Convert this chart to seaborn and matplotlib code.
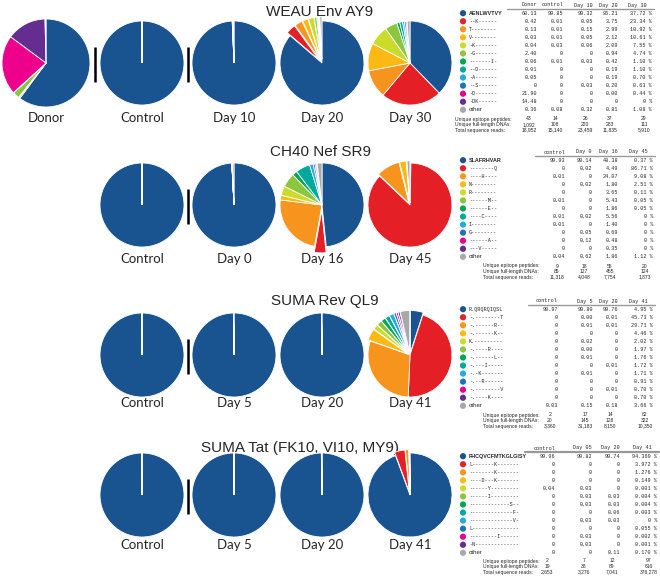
import matplotlib
matplotlib.use("Agg")
import matplotlib.pyplot as plt
import seaborn as sns

sns.set_theme(style="white")
plt.rcParams['font.family'] = ['Liberation Sans', 'DejaVu Sans']

W, H = 660, 579

# slice colours, in the order of the table rows
colors = sns.color_palette(['#1a5490', '#e41f26', '#f7941e', '#fcb813', '#cbdb2a', '#8cc63f',
                            '#00a651', '#00a99d', '#27aae1', '#1c75bc', '#ec008c', '#662d91',
                            '#a7a9ac'])

# ---- WEAU Env AY9 ----
weau_title = "WEAU Env AY9"
weau_labels = ["Donor", "Control", "Day 10", "Day 20", "Day 30"]
weau_headers = ["Donor", "control", "Day 10", "Day 20", "Day 30"]
weau_variants = ["AENLWVTVY", "--K------", "T--------", "V--------", "-K-------", "-G-------",
                 "-------I-", "--D------", "-A-------", "--S------", "-D-------", "-DK------", "other"]
weau_donor = [60.13, 0.42, 0.13, 0.03, 0.04, 2.40, 0.06, 0.01, 0.05, 0, 21.90, 14.48, 0.36]
weau_control = [99.85, 0.01, 0.01, 0.01, 0.03, 0, 0.01, 0, 0, 0, 0, 0, 0.08]
weau_day10 = [99.32, 0.05, 0.15, 0.05, 0.06, 0, 0.03, 0, 0, 0.03, 0, 0, 0.32]
weau_day20 = [86.21, 3.75, 2.99, 2.12, 2.09, 0.94, 0.42, 0.19, 0.19, 0.20, 0.004, 0, 0.81]
weau_day30 = [37.72, 23.34, 10.92, 10.61, 7.55, 4.74, 1.10, 1.10, 0.70, 0.63, 0.44, 0, 1.08]
weau_peptides = [43, 14, 26, 37, 29]
weau_dnas = [1092, 108, 220, 283, 111]
weau_reads = [18952, 15140, 23459, 11835, 5910]

# ---- CH40 Nef SR9 ----
ch40_title = "CH40 Nef SR9"
ch40_labels = ["Control", "Day 0", "Day 16", "Day 45"]
ch40_headers = ["control", "Day 0", "Day 16", "Day 45"]
ch40_variants = ["SLAFRHVAR", "--------Q", "----H----", "N--------", "R--------", "------M--",
                 "------E--", "----C----", "I--------", "G--------", "------A--", "---V-----", "other"]
ch40_control = [99.93, 0, 0.01, 0, 0, 0.01, 0, 0.01, 0.01, 0, 0, 0, 0.04]
ch40_day0 = [99.14, 0.02, 0, 0.02, 0, 0, 0, 0.02, 0, 0.05, 0.12, 0, 0.62]
ch40_day16 = [48.38, 4.49, 24.07, 1.80, 3.65, 5.43, 1.86, 5.56, 1.40, 0.69, 0.48, 0.35, 1.86]
ch40_day45 = [0.37, 86.71, 9.08, 2.51, 0.11, 0.05, 0.05, 0, 0, 0, 0, 0, 1.12]
ch40_peptides = [9, 18, 55, 20]
ch40_dnas = [85, 127, 455, 124]
ch40_reads = [11318, 4048, 7754, 1873]

# ---- SUMA Rev QL9 ----
rev_title = "SUMA Rev QL9"
rev_labels = ["Control", "Day 5", "Day 20", "Day 41"]
rev_headers = ["control", "Day 5", "Day 20", "Day 41"]
rev_variants = ["R.QRQRQIQSL", "-.--------T", "-.------R--", "-.------K--", "K.---------", "-.----R----",
                "-.------L--", "-.---I-----", "-.-K-------", "-.--R------", "-.--------V", "-.----K----",
                "other"]
rev_control = [99.97, 0, 0, 0, 0, 0, 0, 0, 0, 0, 0, 0, 0.03]
rev_day5 = [99.80, 0.004, 0.01, 0, 0.02, 0.004, 0.01, 0, 0.01, 0, 0, 0, 0.15]
rev_day20 = [99.76, 0.01, 0.01, 0, 0, 0, 0, 0.01, 0, 0, 0.01, 0, 0.18]
rev_day41 = [4.95, 45.73, 29.71, 4.46, 2.02, 1.97, 1.76, 1.72, 1.71, 0.91, 0.70, 0.70, 3.66]
rev_peptides = [2, 17, 14, 62]
rev_dnas = [20, 145, 128, 322]
rev_reads = [3360, 31183, 8150, 10350]

# ---- SUMA Tat (FK10, VI10, MY9) ----
tat_title = "SUMA Tat (FK10, VI10, MY9)"
tat_labels = ["Control", "Day 5", "Day 20", "Day 41"]
tat_headers = ["control", "Day 05", "Day 20", "Day 41"]
tat_variants = ["FHCQVCFMTKGLGISY", "L-------K-------", "--------K-------", "----D---K-------",
                "------Y---------", "------I---------", "-------------S--", "--------------F-",
                "--------------V-", "L---------------", "---------I------", "-N--------------", "other"]
tat_control = [99.96, 0, 0, 0, 0.04, 0, 0, 0, 0, 0, 0, 0, 0]
tat_day5 = [99.82, 0, 0, 0, 0.03, 0.03, 0.03, 0, 0.03, 0, 0.03, 0.03, 0]
tat_day20 = [99.74, 0, 0, 0, 0, 0.03, 0.03, 0.06, 0.03, 0, 0, 0, 0.11]
tat_day41 = [94.369, 3.972, 1.276, 0.149, 0.001, 0.004, 0.004, 0.003, 0, 0.055, 0.002, 0.001, 0.17]
tat_peptides = [2, 7, 12, 97]
tat_dnas = [19, 38, 89, 616]
tat_reads = [2653, 3276, 7041, 376278]

fig = plt.figure(figsize=(W / 100, H / 100), dpi=100)
bg = fig.add_axes([0, 0, 1, 1], zorder=0)
bg.set_xlim(0, W)
bg.set_ylim(H, 0)
bg.axis('off')

mono = ['Liberation Mono', 'DejaVu Sans Mono']
MONO_FS = 3.7
LIM = 1.18


def draw_pie(values, cx, cy, r, explode_idx=(), explode_amt=0.0):
    keep = [i for i, v in enumerate(values) if v > 0]
    vals = [values[i] for i in keep]
    cols = [colors[i] for i in keep]
    expl = [explode_amt if i in explode_idx else 0 for i in keep]
    side = 2 * r * LIM
    ax = fig.add_axes([(cx - r * LIM) / W, 1 - (cy + r * LIM) / H, side / W, side / H], zorder=2)
    ax.pie(vals, colors=cols, startangle=90, counterclock=False, explode=expl,
           wedgeprops=dict(edgecolor='white', linewidth=0.6))
    ax.set_xlim(-LIM, LIM)
    ax.set_ylim(-LIM, LIM)
    ax.set_aspect('equal')
    ax.axis('off')


def fmt(v, last, dec):
    s = "0" if v == 0 else f"{v:.{dec}f}"
    return s + " %" if last else s


def draw_table(variants, headers, columns, footer, head_y, col_right, name_sans,
               foot_x, foot_y, last_dec=2, line_w=1.0):
    row0 = head_y + 8.2
    for j, h in enumerate(headers):
        xr = col_right[j] - (5 if j == len(headers) - 1 else 0)
        bg.text(xr, head_y, h, family=mono, fontsize=MONO_FS, ha='right', va='center')
    bg.plot([col_right[0] - 30, col_right[-1] + 2], [head_y + 3.5, head_y + 3.5],
            color='#999999', lw=line_w)
    ys = [row0 + 8.05 * i for i in range(len(variants))]
    bg.scatter([463] * len(variants), ys, s=20, c=colors[:len(variants)], linewidths=0, zorder=3)
    for i, name in enumerate(variants):
        if name == "other":
            bg.text(469, ys[i], name, fontsize=4.4, ha='left', va='center')
        elif i == 0 and name_sans:
            bg.text(469, ys[i], name, fontsize=3.9, ha='left', va='center', fontweight='bold')
        else:
            bg.text(469, ys[i], name, family=mono, fontsize=MONO_FS, ha='left', va='center')
        for j, col in enumerate(columns):
            last = j == len(columns) - 1
            txt = fmt(col[i], last, last_dec if last else 2)
            bg.text(col_right[j], ys[i], txt, family=mono, fontsize=MONO_FS, ha='right', va='center')
    names = ["Unique epitope peptides:", "Unique full-length DNAs:", "Total sequence reads:"]
    for k, (lab, vals) in enumerate(zip(names, footer)):
        y = foot_y + 5.6 * k
        bg.text(foot_x, y, lab, fontsize=3.6, ha='left', va='center')
        for j, v in enumerate(vals):
            bg.text(col_right[j] - 8, y, f"{v:,}", fontsize=3.6, ha='center', va='center')


def draw_row(title, title_xy, labels, cxs, cy, label_y, bar_xs, columns, radii, explodes):
    bg.text(title_xy[0], title_xy[1], title, fontsize=11, ha='center', va='center')
    for k, col in enumerate(columns):
        idx, amt = explodes[k]
        draw_pie(col, cxs[k], cy, radii[k], idx, amt)
        bg.text(cxs[k], label_y, labels[k], family=['Lato', 'DejaVu Sans'], fontsize=9.5,
                ha='center', va='center')
    for bx in bar_xs:
        bg.plot([bx, bx], [cy - 16, cy + 19], color='black', lw=1.8, solid_capstyle='butt')


# row 1
draw_row(weau_title, (320, 12), weau_labels, [46, 142, 234, 322, 410], 63, 118, [95, 188],
         [weau_donor, weau_control, weau_day10, weau_day20, weau_day30], [44, 42, 42, 42, 42],
         [((), 0), ((), 0), ((), 0), (range(1, 13), 0.1), ((), 0)])
draw_table(weau_variants, weau_headers, [weau_donor, weau_control, weau_day10, weau_day20, weau_day30],
           [weau_peptides, weau_dnas, weau_reads], 5, [537, 563, 593, 618, 652], True, 455, 119)

# row 2
draw_row(ch40_title, (321, 152), ch40_labels, [142, 234, 322, 410], 205, 259, [188],
         [ch40_control, ch40_day0, ch40_day16, ch40_day45], [42, 42, 42, 42],
         [((), 0), ((), 0), ((1,), 0.14), ((2, 3, 4, 5, 6, 12), 0.05)])
draw_table(ch40_variants, ch40_headers, [ch40_control, ch40_day0, ch40_day16, ch40_day45],
           [ch40_peptides, ch40_dnas, ch40_reads], 152, [565, 592, 618, 653], True, 483, 266)

# row 3
draw_row(rev_title, (325, 301), rev_labels, [142, 234, 322, 410], 355, 403, [188],
         [rev_control, rev_day5, rev_day20, rev_day41], [42, 42, 42, 42],
         [((), 0), ((), 0), ((), 0), ((0,) + tuple(range(3, 13)), 0.06)])
draw_table(rev_variants, rev_headers, [rev_control, rev_day5, rev_day20, rev_day41],
           [rev_peptides, rev_dnas, rev_reads], 301, [558, 593, 618, 653], False, 483, 415)

# row 4
draw_row(tat_title, (300, 448), tat_labels, [142, 234, 322, 410], 495, 545, [188],
         [tat_control, tat_day5, tat_day20, tat_day41], [42, 42, 42, 42],
         [((), 0), ((), 0), ((), 0), ((1, 2, 3, 12), 0.08)])
draw_table(tat_variants, tat_headers, [tat_control, tat_day5, tat_day20, tat_day41],
           [tat_peptides, tat_dnas, tat_reads], 448, [555, 592, 620, 657], True, 483, 561,
           last_dec=3, line_w=1.6)

fig.savefig("out.png", dpi=100, facecolor='white')
